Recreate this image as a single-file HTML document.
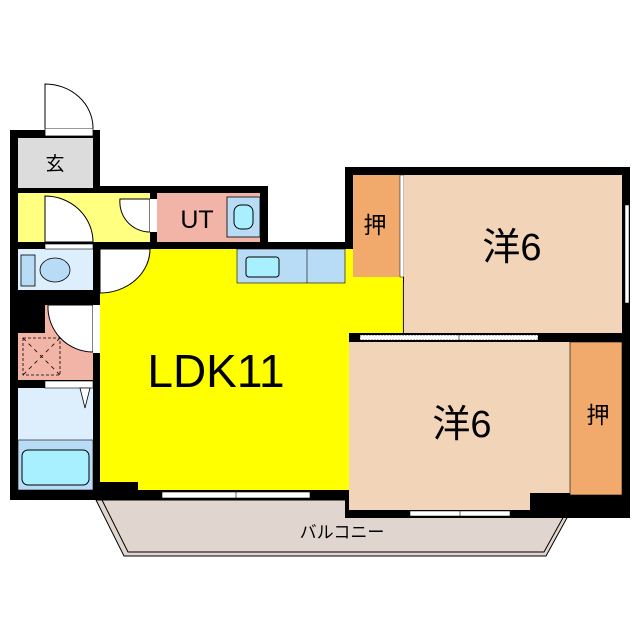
<!DOCTYPE html>
<html><head><style>body{margin:0;background:#fff}svg{display:block}text{font-family:"Liberation Sans","Noto Sans CJK JP",sans-serif}</style></head><body>
<svg width="640" height="640" viewBox="0 0 640 640" xmlns="http://www.w3.org/2000/svg">
<polygon points="96,500 124,556 546,556 574,505 574,500" fill="#e0d6cf" stroke="#000" stroke-width="1"/>
<polyline points="102,500 128,552 544,552 570,505" fill="none" stroke="#000" stroke-width="1"/>
<text x="342" y="538" font-size="17" text-anchor="middle">バルコニー</text>
<rect x="10" y="130" width="90" height="370" fill="#000"/>
<rect x="93" y="186" width="175" height="63" fill="#000"/>
<rect x="93" y="242" width="260" height="258" fill="#000"/>
<rect x="345" y="167" width="285" height="351" fill="#000"/>
<rect x="18" y="138" width="75" height="50" fill="#dcdcdc"/>
<rect x="45" y="128" width="48" height="8" fill="#fff" stroke="#000" stroke-width="0.8"/>
<path d="M45,128 L45,84 A48,44 0 0 1 93,128" fill="#fff" stroke="#000" stroke-width="1"/>
<text x="55" y="170" font-size="19" text-anchor="middle">玄</text>
<rect x="18" y="193" width="132" height="49" fill="#ffff80"/>
<path d="M45,242 L45,196 A48,46 0 0 1 93,242 Z" fill="#fff" stroke="#000" stroke-width="1"/>
<path d="M150,199 L120,199 A30,30 0 0 0 150,232 Z" fill="#fff" stroke="#000" stroke-width="1"/>
<rect x="150" y="199" width="7" height="33" fill="#fff"/>
<rect x="157" y="193" width="103" height="49" fill="#f2b4a6"/>
<rect x="227" y="197" width="33" height="40" fill="#b8dcf6" stroke="#000" stroke-width="0.8"/>
<rect x="234" y="205" width="19" height="24" rx="7" fill="#a8f0ff" stroke="#000" stroke-width="1"/>
<text x="197" y="228" font-size="25" text-anchor="middle">UT</text>
<rect x="18" y="249" width="75" height="41" fill="#ddeefc"/>
<rect x="21" y="255" width="14" height="31" fill="#b8dcf6" stroke="#000" stroke-width="0.8"/>
<ellipse cx="55" cy="270" rx="15" ry="12" fill="#b8dcf6" stroke="#000" stroke-width="0.8"/>
<rect x="45" y="244" width="48" height="5" fill="#fff" stroke="#000" stroke-width="0.6"/>
<rect x="100" y="249" width="303" height="84" fill="#ffff00"/>
<rect x="100" y="330" width="249" height="160" fill="#ffff00"/>
<rect x="100" y="482" width="38" height="8" fill="#000"/>
<path d="M100,249 L150,249 A50,44 0 0 1 100,293 Z" fill="#fff" stroke="#000" stroke-width="1"/>
<rect x="237" y="249" width="108" height="34" fill="#b8dcf6" stroke="#000" stroke-width="0.6"/>
<line x1="307" y1="249" x2="307" y2="283" stroke="#000" stroke-width="0.6"/>
<rect x="246" y="257" width="33" height="20" rx="3" fill="#a8f0ff" stroke="#000" stroke-width="1"/>
<text x="216" y="387" font-size="46" text-anchor="middle">LDK11</text>
<rect x="162" y="492" width="148" height="6" fill="#fff" stroke="#000" stroke-width="0.6"/>
<line x1="236" y1="492" x2="236" y2="498" stroke="#000" stroke-width="0.6"/>
<rect x="18" y="333" width="75" height="47" fill="#f2b4a6"/>
<rect x="45" y="305" width="48" height="28" fill="#f2b4a6"/>
<path d="M48,305 A45,45 0 0 0 93,352 L93,305 Z" fill="#fff" stroke="#000" stroke-width="1"/>
<rect x="23" y="338" width="37" height="37" fill="none" stroke="#000" stroke-width="0.8" stroke-dasharray="3,2"/>
<line x1="23" y1="338" x2="60" y2="375" stroke="#000" stroke-width="0.8" stroke-dasharray="4,4"/>
<line x1="60" y1="338" x2="23" y2="375" stroke="#000" stroke-width="0.8" stroke-dasharray="4,4"/>
<rect x="93" y="305" width="7" height="48" fill="#fff"/>
<rect x="18" y="388" width="75" height="52" fill="#ddeefc"/>
<rect x="45" y="381" width="48" height="7" fill="#fff" stroke="#000" stroke-width="0.6"/>
<polygon points="80,388 90,388 85,408" fill="#fff" stroke="#000" stroke-width="0.8"/>
<rect x="18" y="440" width="75" height="50" fill="#b8dcf6" stroke="#000" stroke-width="0.6"/>
<rect x="22" y="450" width="67" height="35" rx="6" fill="#a8f0ff" stroke="#000" stroke-width="1"/>
<rect x="353" y="175" width="47" height="102" fill="#f2aa6c"/>
<text x="375" y="233" font-size="23" text-anchor="middle">押</text>
<rect x="400" y="175" width="4" height="102" fill="#fff" stroke="#000" stroke-width="0.5"/>
<rect x="404" y="175" width="218" height="158" fill="#f2d4b8"/>
<line x1="403" y1="283" x2="403" y2="333" stroke="#999" stroke-width="0.5"/>
<text x="512" y="260" font-size="38" text-anchor="middle">洋6</text>
<rect x="625" y="205" width="4" height="98" fill="#fff" stroke="#000" stroke-width="0.5"/>
<rect x="349" y="342" width="221" height="168" fill="#f2d4b8"/>
<rect x="570" y="342" width="52" height="153" fill="#f2aa6c" stroke="#000" stroke-width="0.6"/>
<rect x="530" y="493" width="40" height="17" fill="#000"/>
<text x="598" y="423" font-size="23" text-anchor="middle">押</text>
<text x="462" y="437" font-size="38" text-anchor="middle">洋6</text>
<rect x="360" y="335" width="178" height="5" fill="#fff" stroke="#000" stroke-width="0.5" stroke-dasharray="2,1"/>
<line x1="459" y1="335" x2="459" y2="340" stroke="#000" stroke-width="0.6"/>
<rect x="410" y="511" width="100" height="5" fill="#fff" stroke="#000" stroke-width="0.5"/>
<line x1="460" y1="511" x2="460" y2="516" stroke="#000" stroke-width="0.6"/>
</svg>
</body></html>
